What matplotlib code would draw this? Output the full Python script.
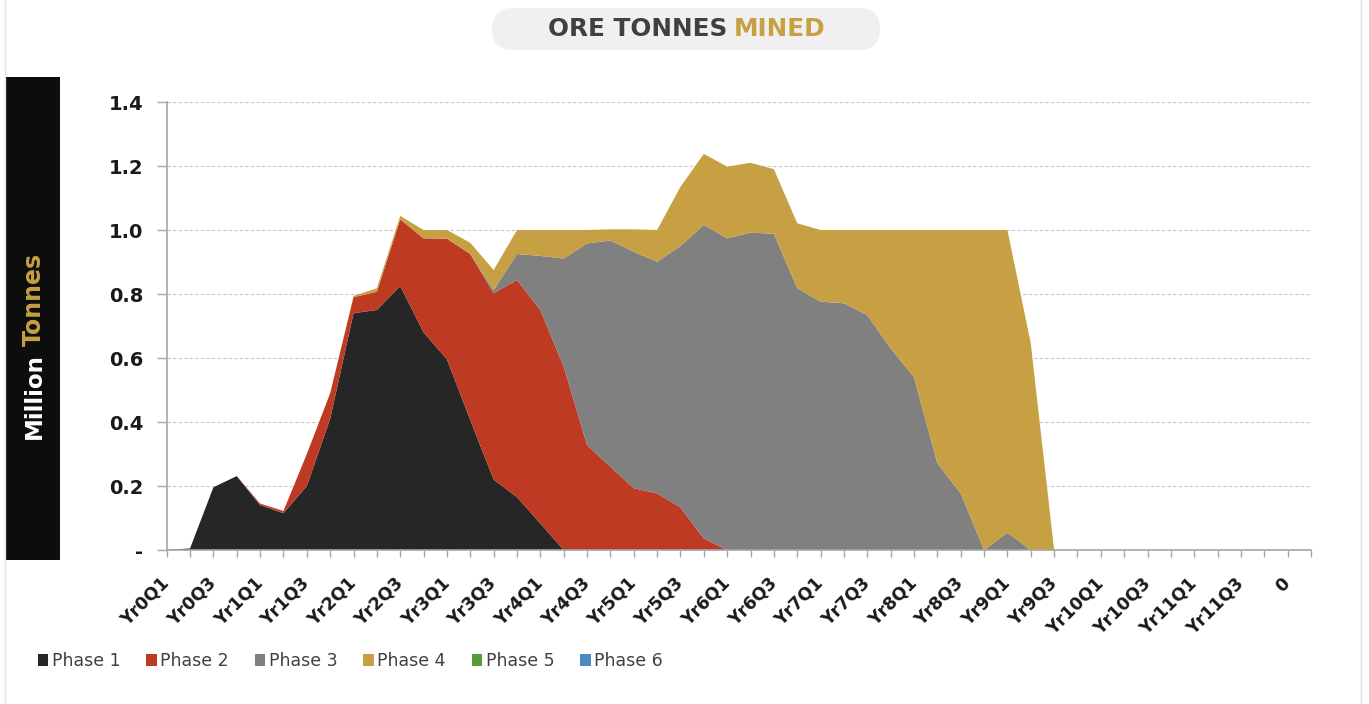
import matplotlib
matplotlib.use("Agg")
import matplotlib.pyplot as plt
from matplotlib.patches import FancyBboxPatch, Rectangle, Patch

# quarters Yr0Q1 .. Yr11Q4, then two empty "0" periods
categories = [f"Yr{y}Q{q}" for y in range(12) for q in range(1, 5)] + ["0", "0"]

phase1 = [0.0, 0.005, 0.196, 0.231, 0.140, 0.115, 0.200, 0.410, 0.740, 0.750,
          0.825, 0.680, 0.596, 0.406, 0.220, 0.165, 0.083, 0.0, 0.0, 0.0,
          0.0, 0.0, 0.0, 0.0, 0.0, 0.0, 0.0, 0.0, 0.0, 0.0,
          0.0, 0.0, 0.0, 0.0, 0.0, 0.0, 0.0, 0.0, 0.0, 0.0,
          0.0, 0.0, 0.0, 0.0, 0.0, 0.0, 0.0, 0.0, 0.0, 0.0]
phase2 = [0.0, 0.0, 0.0, 0.0, 0.005, 0.007, 0.100, 0.080, 0.050, 0.057,
          0.208, 0.294, 0.377, 0.519, 0.582, 0.679, 0.667, 0.573, 0.328, 0.260,
          0.193, 0.177, 0.133, 0.036, 0.0, 0.0, 0.0, 0.0, 0.0, 0.0,
          0.0, 0.0, 0.0, 0.0, 0.0, 0.0, 0.0, 0.0, 0.0, 0.0,
          0.0, 0.0, 0.0, 0.0, 0.0, 0.0, 0.0, 0.0, 0.0, 0.0]
phase3 = [0.0, 0.0, 0.0, 0.0, 0.0, 0.0, 0.0, 0.0, 0.0, 0.0,
          0.0, 0.0, 0.0, 0.0, 0.010, 0.081, 0.169, 0.338, 0.630, 0.707,
          0.739, 0.724, 0.817, 0.980, 0.974, 0.992, 0.988, 0.818, 0.776, 0.771,
          0.734, 0.630, 0.540, 0.271, 0.177, 0.0, 0.054, 0.0, 0.0, 0.0,
          0.0, 0.0, 0.0, 0.0, 0.0, 0.0, 0.0, 0.0, 0.0, 0.0]
phase4 = [0.0, 0.0, 0.0, 0.0, 0.0, 0.0, 0.0, 0.0, 0.004, 0.011,
          0.011, 0.026, 0.027, 0.035, 0.063, 0.075, 0.081, 0.089, 0.042, 0.035,
          0.070, 0.099, 0.185, 0.222, 0.224, 0.218, 0.202, 0.203, 0.224, 0.229,
          0.266, 0.370, 0.460, 0.729, 0.823, 1.000, 0.946, 0.646, 0.0, 0.0,
          0.0, 0.0, 0.0, 0.0, 0.0, 0.0, 0.0, 0.0, 0.0, 0.0]
phase5 = [0.0] * 50
phase6 = [0.0] * 50

series_names = ["Phase 1", "Phase 2", "Phase 3", "Phase 4", "Phase 5", "Phase 6"]
colors = ["#262626", "#BE3A22", "#808080", "#C6A042", "#5B9A3A", "#4A89C4"]

yticks = [0.0, 0.2, 0.4, 0.6, 0.8, 1.0, 1.2, 1.4]
yticklabels = ["-", "0.2", "0.4", "0.6", "0.8", "1.0", "1.2", "1.4"]

W, H = 1369, 704
fig = plt.figure(figsize=(W / 100, H / 100), dpi=100)
fig.patch.set_facecolor("white")

ax = fig.add_axes([166.7 / W, 1 - 550 / H, (1311 - 166.7) / W, (550 - 102) / H])
xs = list(range(len(categories)))
ax.stackplot(xs, phase1, phase2, phase3, phase4, phase5, phase6,
             colors=colors, linewidth=0, zorder=2)
ax.set_xlim(0, len(categories) - 1)
ax.set_ylim(0, 1.4)

ax.set_yticks(yticks)
ax.set_yticklabels(yticklabels, fontsize=14, fontweight="bold", color="#1a1a1a")
ax.grid(axis="y", linestyle=(0, (3, 2)), color="#C8C8C8", linewidth=0.8, zorder=1)
ax.set_axisbelow(True)

ax.set_xticks(xs)
ax.set_xticklabels([c if i % 2 == 0 else "" for i, c in enumerate(categories)],
                   rotation=45, ha="right", va="center", rotation_mode="anchor",
                   fontsize=12.5, fontweight="bold", color="#1a1a1a")

for s in ["top", "right"]:
    ax.spines[s].set_visible(False)
for s in ["left", "bottom"]:
    ax.spines[s].set_color("#A6A6A6")
    ax.spines[s].set_linewidth(1.2)
ax.tick_params(axis="y", length=7, width=1, color="#A6A6A6", pad=10)
ax.tick_params(axis="x", length=5, width=1, color="#A6A6A6", pad=17)

# title pill
pill = FancyBboxPatch((492, H - 50), 388, 42, boxstyle="round,pad=0,rounding_size=21",
                      transform=None, facecolor="#F0F0F0", edgecolor="none")
fig.add_artist(pill)
fig.text(727 / W, 1 - 29 / H, "ORE TONNES", ha="right", va="center",
         fontsize=17.8, fontweight="bold", color="#404040")
fig.text(734 / W, 1 - 29 / H, "MINED", ha="left", va="center",
         fontsize=17.8, fontweight="bold", color="#C6A042")

# y-axis label block
fig.add_artist(Rectangle((6, H - 560), 54, 483, transform=None,
                         facecolor="#0D0D0D", edgecolor="none"))
fig.text(34 / W, (H - 353) / H, "Million", rotation=90, ha="center", va="top",
         fontsize=16.5, fontweight="bold", color="white")
fig.text(34 / W, (H - 346) / H, "Tonnes", rotation=90, ha="center", va="bottom",
         fontsize=17, fontweight="bold", color="#C6A042")

# faint chart border
fig.add_artist(Rectangle((5, -2), 1356, H + 4, transform=None, fill=False,
                         edgecolor="#E3E3E3", linewidth=1))

handles = [Patch(facecolor=c, edgecolor="none") for c in colors]
fig.legend(handles, series_names, loc="center left", bbox_to_anchor=(22 / W, 1 - 661 / H),
           ncol=6, frameon=False, handlelength=0.6, handleheight=0.7,
           handletextpad=0.2, columnspacing=1.5,
           prop={"family": ["Liberation Sans Narrow", "DejaVu Sans"], "size": 12.5},
           labelcolor="#404040")

fig.savefig("out.png", dpi=100)
